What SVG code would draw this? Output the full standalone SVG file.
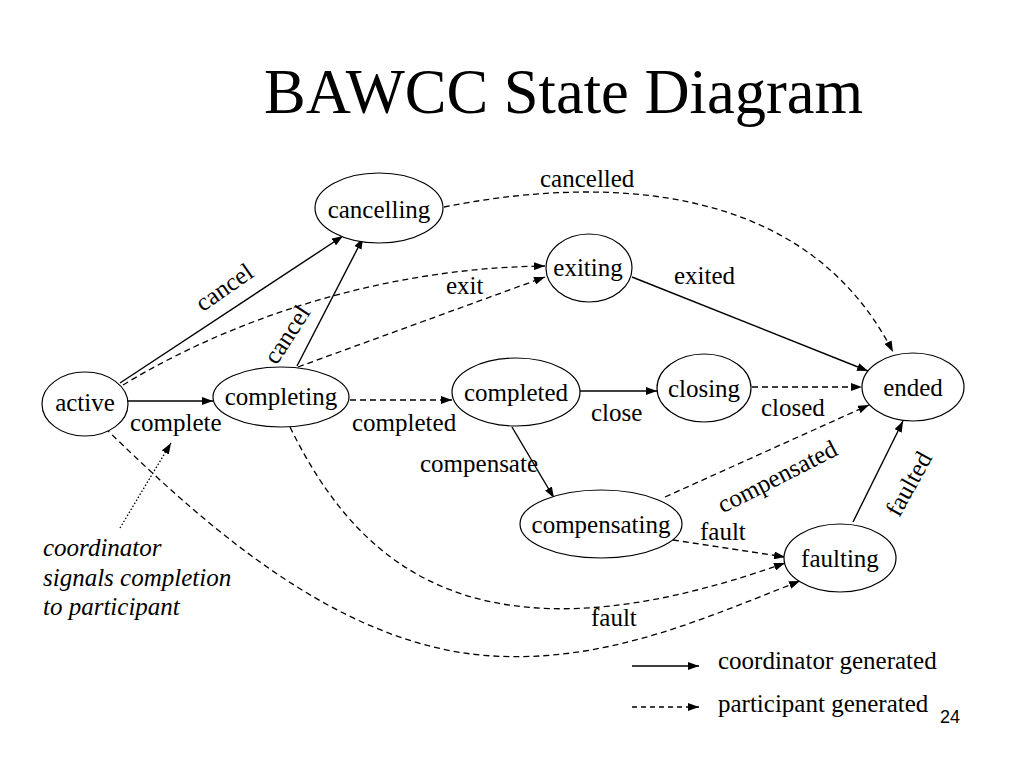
<svg xmlns="http://www.w3.org/2000/svg" width="1024" height="768" viewBox="0 0 1024 768">
<style>
  .node ellipse { fill: #fff; stroke: #000; stroke-width: 1.2; }
  .lbl { font-family: "Liberation Serif", "Times New Roman", serif; font-size: 25px; fill: #000; }
  .node text { text-anchor: middle; }
  .solid { fill: none; stroke: #000; stroke-width: 1.4; marker-end: url(#arrow); }
  .dash { fill: none; stroke: #000; stroke-width: 1.3; stroke-dasharray: 6 4; marker-end: url(#arrow); }
  .dot { fill: none; stroke: #000; stroke-width: 1.3; stroke-dasharray: 1.5 2; marker-end: url(#arrow); }
  .note { font-style: italic; }
</style>
<defs>
  <marker id="arrow" markerUnits="userSpaceOnUse" markerWidth="11" markerHeight="8" refX="11" refY="4" orient="auto">
    <path d="M0,0 L11,4 L0,8 z" fill="#000"/>
  </marker>
</defs>
<rect width="1024" height="768" fill="#fff"/>

<text x="264" y="113" font-family="Liberation Serif, Times New Roman, serif" font-size="62.5">BAWCC State Diagram</text>

<g id="connectors">
  <path class="solid" d="M120,383 L343,236"/>
  <path class="dash" d="M123,385 C230,320 380,268 545,266"/>
  <path class="solid" d="M297,366 L363,238"/>
  <path class="dash" d="M298,367 L545,277"/>
  <path class="solid" d="M128,401 L213,401"/>
  <path class="dash" d="M350,400 L452,400"/>
  <path class="solid" d="M580,391 L657,391"/>
  <path class="dash" d="M752,387 L862,387"/>
  <path class="solid" d="M632,277 L868,371"/>
  <path class="dash" d="M444,207 C580,180 800,170 893,352"/>
  <path class="solid" d="M512,427 L554,498"/>
  <path class="dash" d="M665,497 L869,405"/>
  <path class="dash" d="M673,540 L785,557"/>
  <path class="dash" d="M290,427 C360,570 480,672 785,563"/>
  <path class="dash" d="M105,428 C200,520 330,640 480,655 C600,666 700,620 800,581"/>
  <path class="solid" d="M853,522 L903,421"/>
  <path class="dot" d="M120,528 L171,443"/>
</g>

<g id="edge-labels" class="lbl">
  <text x="540" y="187">cancelled</text>
  <text transform="translate(229,294) rotate(-35)" text-anchor="middle">cancel</text>
  <text transform="translate(294,339) rotate(-57)" text-anchor="middle">cancel</text>
  <text x="446" y="294">exit</text>
  <text x="674" y="284">exited</text>
  <text x="130" y="431">complete</text>
  <text x="352" y="431">completed</text>
  <text x="591" y="421">close</text>
  <text x="761" y="416">closed</text>
  <text x="420" y="472">compensate</text>
  <text transform="translate(781,484) rotate(-27)" text-anchor="middle">compensated</text>
  <text transform="translate(916,488) rotate(-61)" text-anchor="middle">faulted</text>
  <text x="700" y="540">fault</text>
  <text x="591" y="626">fault</text>
</g>

<g id="node-active" class="node lbl">
  <ellipse cx="85" cy="404" rx="43" ry="32"/>
  <text x="85" y="411">active</text>
</g>
<g id="node-completing" class="node lbl">
  <ellipse cx="281" cy="397" rx="68" ry="30"/>
  <text x="281" y="405">completing</text>
</g>
<g id="node-cancelling" class="node lbl">
  <ellipse cx="379" cy="208" rx="64" ry="35"/>
  <text x="379" y="218">cancelling</text>
</g>
<g id="node-exiting" class="node lbl">
  <ellipse cx="589" cy="268" rx="43" ry="34"/>
  <text x="588" y="276">exiting</text>
</g>
<g id="node-completed" class="node lbl">
  <ellipse cx="516" cy="392" rx="64" ry="34"/>
  <text x="516" y="401">completed</text>
</g>
<g id="node-closing" class="node lbl">
  <ellipse cx="704" cy="388" rx="47" ry="34"/>
  <text x="704" y="397">closing</text>
</g>
<g id="node-ended" class="node lbl">
  <ellipse cx="913" cy="387" rx="51" ry="34"/>
  <text x="913" y="396">ended</text>
</g>
<g id="node-compensating" class="node lbl">
  <ellipse cx="601" cy="524" rx="81" ry="34"/>
  <text x="601" y="533">compensating</text>
</g>
<g id="node-faulting" class="node lbl">
  <ellipse cx="840" cy="558" rx="56" ry="34"/>
  <text x="840" y="567">faulting</text>
</g>

<g id="note" class="lbl note">
  <text x="43" y="556">coordinator</text>
  <text x="43" y="586">signals completion</text>
  <text x="43" y="615">to participant</text>
</g>

<g id="legend" class="lbl">
  <path class="solid" d="M632,666 L699,666"/>
  <text x="718" y="669">coordinator generated</text>
  <path class="dash" d="M632,707 L699,707" style="stroke-dasharray:5 4"/>
  <text x="718" y="712">participant generated</text>
</g>

<text x="940" y="723" font-family="Liberation Sans, Arial, sans-serif" font-size="18">24</text>
</svg>
